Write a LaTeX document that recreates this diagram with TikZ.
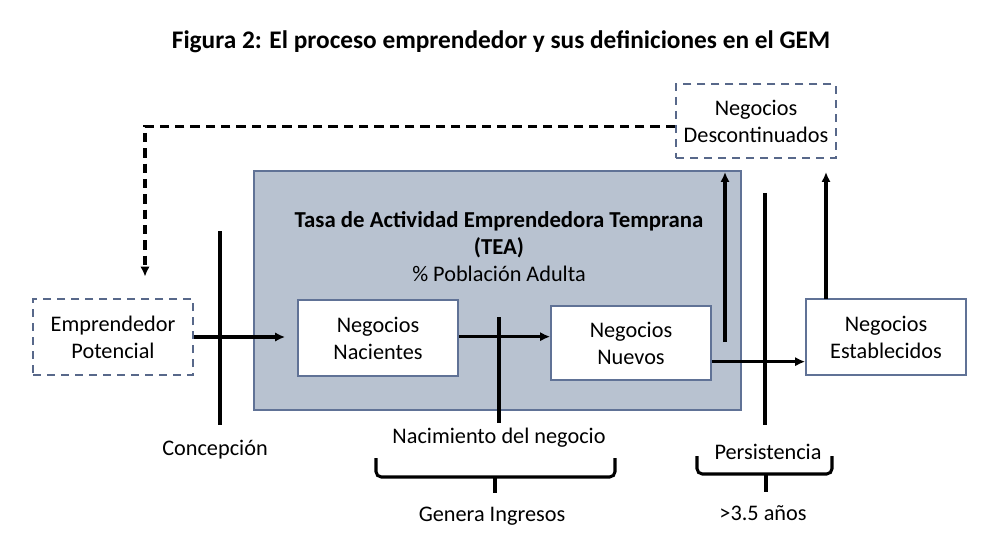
\documentclass[tikz,border=0pt]{standalone}
\usepackage{fontspec}
\setmainfont{Carlito}
\usetikzlibrary{positioning, arrows.meta}
\definecolor{BoxEdge}{RGB}{88,104,138}
\definecolor{TeaFill}{RGB}{184,194,208}
\definecolor{TeaEdge}{RGB}{96,114,150}

\tikzset{
  etapa/.style={draw=TeaEdge, fill=white, line width=1.3pt, minimum width=120pt, minimum height=57pt, align=center},
  posible/.style={etapa, draw=BoxEdge, line width=1.5pt, dash pattern=on 6pt off 4.5pt},
  flecha/.style={-{Latex[length=7.5pt, width=7pt]}, line width=2.3pt},
  barra/.style={line width=2.3pt},
  llave/.style={line width=2.3pt, rounded corners=4pt},
  retorno/.style={flecha, dash pattern=on 7pt off 4.5pt}
}

\begin{document}
\begin{tikzpicture}[x=0.75pt, y=-0.75pt, font=\fontsize{16.7}{20.3}\selectfont]
  \useasboundingbox (0,0) rectangle (998,538);
  \node[font=\fontsize{19}{22}\selectfont\bfseries] (titulo) at (501,42) {Figura 2: El proceso emprendedor y sus definiciones en el GEM};

  % caja TEA
  \node[draw=TeaEdge, fill=TeaFill, line width=1.5pt, minimum width=365pt, minimum height=179pt] (tea) at (497.5,290.5) {};
  \node[align=center] (teatxt) at (499,247) {{\fontsize{17.1}{20.3}\selectfont\bfseries Tasa de Actividad Emprendedora Temprana}\\{\fontsize{17.1}{20.3}\selectfont\bfseries (TEA)}\\\% Población Adulta};

  \node[posible] (potencial) at (113,337) {Emprendedor\\Potencial};
  \node[etapa] (nacientes) at (378,338) {Negocios\\Nacientes};
  \node[etapa, minimum height=56pt] (nuevos) at (631,343) {Negocios\\Nuevos};
  \node[etapa] (establecidos) at (886,337) {Negocios\\Establecidos};
  \node[posible, minimum height=55pt] (descont) at (756,121) {Negocios\\Descontinuados};

  % flujos
  \draw[flecha, shorten >=9pt] (potencial) -- (potencial -| nacientes.west);
  \draw[flecha] ([yshift=1pt]nacientes.east) -- ([yshift=1pt]nacientes.east -| nuevos.west);
  \draw[flecha] ([yshift=-14pt]nuevos.east) -- ([yshift=-14pt]nuevos.east -| establecidos.west);
  \coordinate (salida) at (725,342);
  \draw[flecha, shorten >=10pt] (salida) -- (salida |- descont.south);
  \coordinate (cierre) at (826,299);
  \draw[flecha, shorten >=10pt] (cierre) -- (cierre |- descont.south);
  \draw[retorno, shorten >=16pt] ([yshift=-4pt]descont.west) -| ([xshift=24pt]potencial.north);

  % etapas
  \node (concep) at (215,450) {Concepción};
  \node (nacim) at (499,438) {Nacimiento del negocio};
  \node (persist) at (768,452) {Persistencia};
  \node (ingresos) at (492,516) {Genera Ingresos};
  \node (anios) at (763,513) {>3.5 años};
  \draw[barra] (220,231) -- (220,425);
  \draw[barra] (499,317) -- (499,423);
  \draw[barra] (765,193) -- (765,425);

  % llaves
  \draw[llave] (376,458) -- (376,477) -- (615,477) -- (615,458);
  \draw[barra] (495,477) -- (495,493);
  \draw[llave] (697,456) -- (697,474) -- (832,474) -- (832,456);
  \draw[barra] (766,474) -- (766,492);
\end{tikzpicture}
\end{document}
